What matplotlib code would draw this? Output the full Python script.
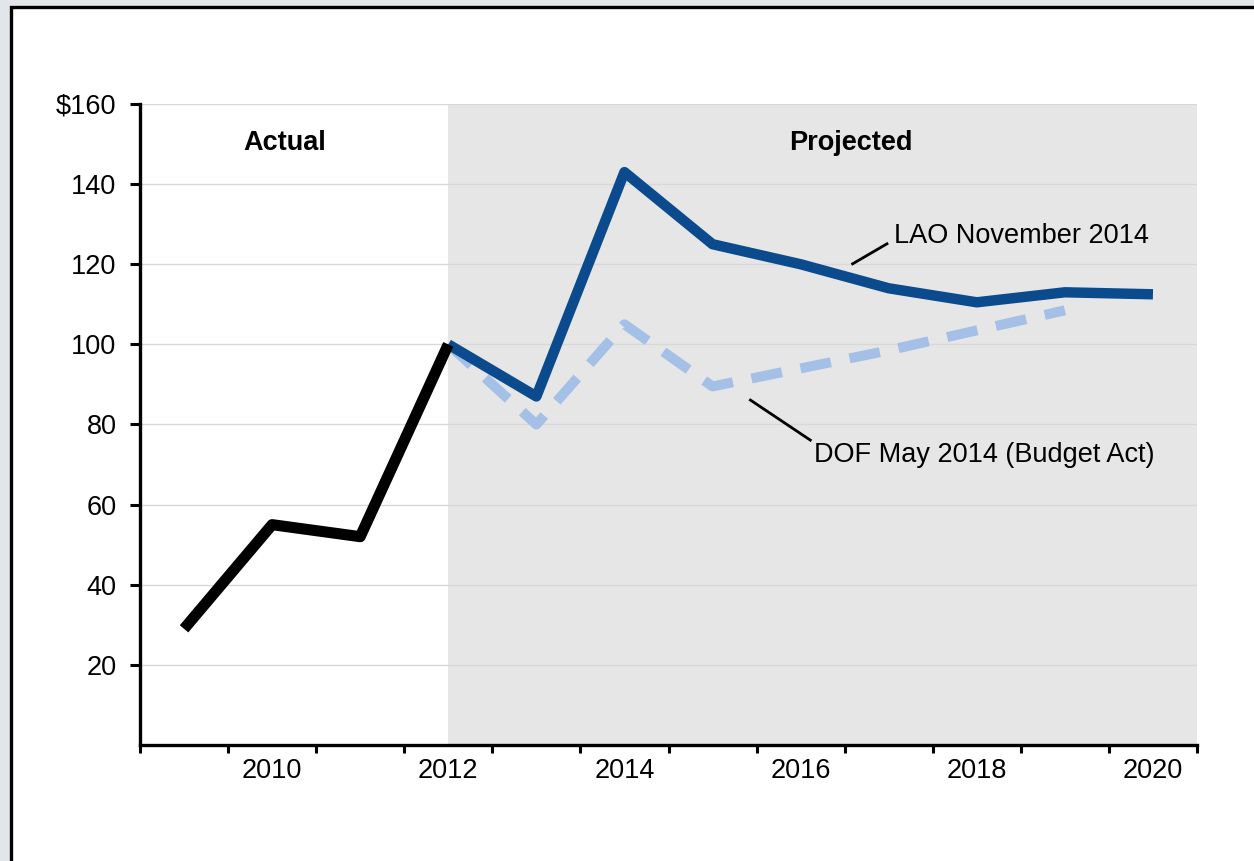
import matplotlib
matplotlib.use("Agg")
import matplotlib.pyplot as plt
from matplotlib.patches import Rectangle

plt.rcParams["font.family"] = ["Liberation Sans", "DejaVu Sans"]

years_actual = [2009, 2010, 2011, 2012]
actual = [29, 55, 52, 100]

years_lao = [2012, 2013, 2014, 2015, 2016, 2017, 2018, 2019, 2020]
lao = [100, 87, 143, 125, 120, 114, 110.5, 113, 112.5]

years_dof = [2012, 2013, 2014, 2015, 2016, 2017, 2018, 2019]
dof = [100, 80, 105, 89.5, 94, 98.5, 103.5, 108.5]

y_ticks = [20, 40, 60, 80, 100, 120, 140, 160]
x_labels = [2010, 2012, 2014, 2016, 2018, 2020]

W, H = 1254, 861
FS = 19.5
fig = plt.figure(figsize=(W / 100, H / 100), dpi=100)
fig.patch.set_facecolor("#e2e5ea")

# white panel with a black frame running off the right and bottom
frame = Rectangle((10.5 / W, -0.05), 1.1, (H - 7) / H + 0.05, transform=fig.transFigure,
                  facecolor="white", edgecolor="black", linewidth=2.4, zorder=-10)
fig.patches.append(frame)

ax = fig.add_axes([140 / W, (H - 745) / H, 1057 / W, 641 / H])
ax.set_facecolor("none")

ax.axvspan(2012, 2020.5, ymin=0, ymax=1, color="#e6e6e6", lw=0, zorder=0)
for v in y_ticks:
    ax.axhline(v, color="#d8d8d8", lw=1.0, zorder=1)

ax.plot(years_dof, dof, color="#a4c0e6", lw=7.2, linestyle=(0, (3.1, 1.9)),
        dash_capstyle="butt", zorder=3)
ax.plot(years_lao, lao, color="#0b4a8c", lw=7.5, solid_capstyle="butt", zorder=4)
ax.plot(years_actual, actual, color="black", lw=8, solid_capstyle="butt", zorder=5)

ax.set_xlim(2008.5, 2020.5)
ax.set_ylim(0, 160)

ax.set_yticks(y_ticks)
ax.set_yticklabels([f"${v}" if v == 160 else str(v) for v in y_ticks])
ax.set_xticks(x_labels)
ax.set_xticklabels([str(v) for v in x_labels])
ax.set_xticks([2008.5 + k for k in range(13)], minor=True)

ax.tick_params(axis="x", which="major", length=0, pad=9, labelsize=FS)
ax.tick_params(axis="x", which="minor", length=6, width=2.2, direction="out")
ax.tick_params(axis="y", length=7, width=2.2, direction="out", pad=10, labelsize=FS)

for side in ("top", "right"):
    ax.spines[side].set_visible(False)
for side in ("left", "bottom"):
    ax.spines[side].set_linewidth(2.4)

ax.text(2010.14, 150.3, "Actual", fontsize=FS, fontweight="bold", ha="center", va="center")
ax.text(2016.57, 150.3, "Projected", fontsize=FS, fontweight="bold", ha="center", va="center")

ax.plot([2016.59, 2016.98], [120.1, 125.1], color="black", lw=2, zorder=6)
ax.text(2017.06, 127.0, "LAO November 2014", fontsize=FS, ha="left", va="center")
ax.plot([2015.43, 2016.11], [86.1, 76.1], color="black", lw=2, zorder=6)
ax.text(2016.15, 72.4, "DOF May 2014 (Budget Act)", fontsize=FS, ha="left", va="center")

fig.savefig("out.png", dpi=100, facecolor=fig.get_facecolor())
